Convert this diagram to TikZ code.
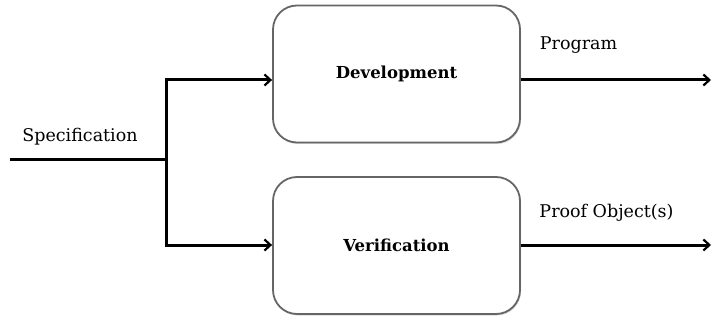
\documentclass[tikz,border=0pt]{standalone}
\usepackage{fontspec}
\setmainfont{DejaVu Serif}
\usetikzlibrary{arrows.meta,shadows}
\begin{document}
\begin{tikzpicture}[x=1pt,y=-1pt,
  procbox/.style={draw=black!60, line width=1.8pt, rounded corners=24pt, fill=white,
    minimum width=247pt, minimum height=137pt, inner sep=0pt,
    font=\fontsize{16.5}{20}\selectfont\bfseries,
    drop shadow={shadow xshift=1pt, shadow yshift=-1.5pt, opacity=0.3}},
  flow/.style={line width=3pt, black},
  flowarrow/.style={flow, -{Straight Barb[length=6pt,width=11pt,line width=2.2pt]}},
  lbl/.style={font=\fontsize{17.5}{20}\selectfont, inner sep=0pt}
]
\useasboundingbox (0,0) rectangle (711,320);
\node[procbox] (dev) at (396.5,74) {\raisebox{-2pt}{Development}};
\node[procbox] (ver) at (396.5,245.5) {\raisebox{-2pt}{Verification}};
\coordinate (s0) at (10,160);
\coordinate (j) at (166,160);
\coordinate (jt) at (166,80);
\coordinate (jb) at (166,245);
\coordinate (o1) at (711,80);
\coordinate (o2) at (711,245);
\draw[flow] (s0) -- (j);
\draw[flowarrow] (j) -- (jt) -- (dev.west |- jt);
\draw[flowarrow] (j) -- (jb) -- (ver.west |- jb);
\draw[flowarrow] (dev.east |- o1) -- (o1);
\draw[flowarrow] (ver.east |- o2) -- (o2);
\node[lbl] (spec) at (80,137) {Specification};
\node[lbl] (prog) at (578.5,45) {Program};
\node[lbl] (proof) at (606.5,213) {Proof Object(s)};
\end{tikzpicture}
\end{document}
